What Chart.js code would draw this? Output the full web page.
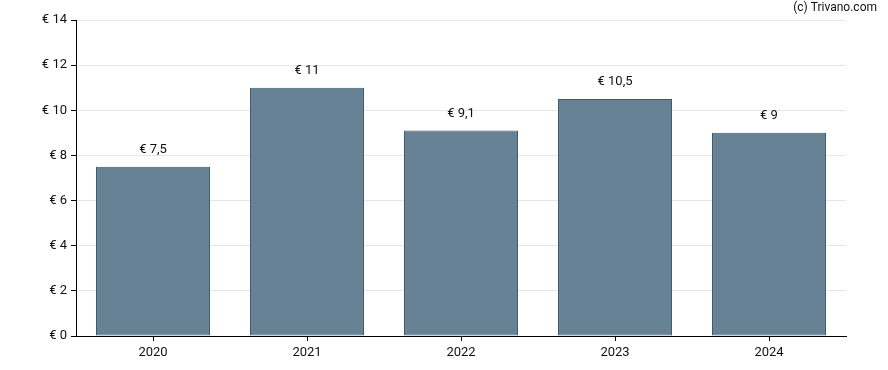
<!DOCTYPE html>
<html lang="nl">
<head>
  <meta charset="UTF-8">
  <title>Dividend</title>
  <script src="https://cdn.jsdelivr.net/npm/chart.js"></script>
  <style>
    html, body { margin: 0; padding: 0; background: #fff; }
    #wrap { width: 888px; height: 370px; position: relative; }
  </style>
</head>
<body>
  <div id="wrap"><canvas id="divChart"></canvas></div>

  <script>
    const jaren = ["2020", "2021", "2022", "2023", "2024"];
    const waarden = [7.5, 11, 9.1, 10.5, 9];
    const yTicks = [0, 2, 4, 6, 8, 10, 12, 14];

    const fmt = v => "€ " + String(v).replace(".", ",");

    // labels boven de staven + copyright tekst
    const labelPlugin = {
      id: "labels",
      afterDatasetsDraw(chart) {
        const ctx = chart.ctx;
        const meta = chart.getDatasetMeta(0);
        ctx.save();
        ctx.font = "13px Roboto";
        ctx.fillStyle = "#111";
        ctx.textAlign = "center";
        ctx.textBaseline = "middle";
        meta.data.forEach((bar, i) => {
          ctx.fillText(fmt(waarden[i]), bar.x, bar.y - 17);
        });
        ctx.font = "12px Roboto";
        ctx.textAlign = "right";
        ctx.fillText("(c) Trivano.com", 877, 8);
        ctx.restore();
      }
    };

    new Chart(document.getElementById("divChart"), {
      type: "bar",
      data: {
        labels: jaren,
        datasets: [{
          data: waarden,
          backgroundColor: "#668294",
          borderColor: "#3d5769",
          borderWidth: 1,
          borderSkipped: false,
          categoryPercentage: 0.74,
          barPercentage: 1
        }]
      },
      options: {
        responsive: true,
        maintainAspectRatio: false,
        animation: false,
        layout: { padding: { top: 20, right: 42, left: 0, bottom: 0 } },
        plugins: { legend: { display: false }, tooltip: { enabled: false } },
        scales: {
          x: {
            afterFit: s => { s.height = 34; },
            grid: { offset: false, drawOnChartArea: false, tickLength: 5, tickColor: "#000" },
            border: { color: "#000", width: 1 },
            ticks: { color: "#111", font: { family: "Roboto", size: 13 }, padding: 4 }
          },
          y: {
            min: 0,
            max: 14,
            afterFit: s => { s.width = 76; },
            afterBuildTicks: s => { s.ticks = yTicks.map(v => ({ value: v })); },
            grid: { color: "#e6e6e6", tickLength: 5, tickColor: "#000" },
            border: { color: "#000", width: 1 },
            ticks: {
              color: "#111",
              font: { family: "Roboto", size: 13 },
              padding: 4,
              callback: v => fmt(v)
            }
          }
        }
      },
      plugins: [labelPlugin]
    });
  </script>
</body>
</html>
